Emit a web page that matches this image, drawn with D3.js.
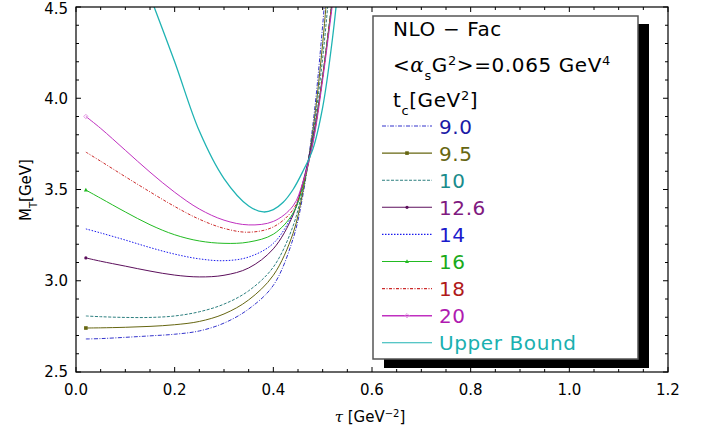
<!DOCTYPE html>
<html>
<head>
<style>
  body { margin: 0; background: #fff; }
  text { font-family: "DejaVu Sans", sans-serif; }
</style>
</head>
<body>
<svg width="705" height="435"></svg>
<script src="https://cdn.jsdelivr.net/npm/d3@7"></script>
<script>

// tau grid shared by the t_c curves
var tau = [0.02, 0.05, 0.10, 0.15, 0.20, 0.25, 0.30, 0.35, 0.40, 0.44, 0.46, 0.48, 0.50, 0.52];

var m90  = [2.681, 2.683, 2.690, 2.698, 2.707, 2.725, 2.768, 2.845, 2.975, 3.23, 3.47, 3.85, 4.40, 5.10];
var m95  = [2.741, 2.742, 2.745, 2.750, 2.759, 2.777, 2.818, 2.895, 3.030, 3.26, 3.49, 3.82, 4.30, 4.95];
var m10  = [2.807, 2.803, 2.799, 2.799, 2.807, 2.830, 2.872, 2.945, 3.075, 3.30, 3.51, 3.80, 4.22, 4.80];
var m126 = [3.125, 3.107, 3.080, 3.053, 3.031, 3.021, 3.030, 3.070, 3.175, 3.36, 3.54, 3.78, 4.12, 4.55];
var m14  = [3.284, 3.262, 3.223, 3.182, 3.146, 3.120, 3.110, 3.130, 3.205, 3.37, 3.53, 3.77, 4.12, 4.55];
var m16  = [3.497, 3.452, 3.377, 3.307, 3.252, 3.218, 3.205, 3.212, 3.255, 3.37, 3.52, 3.76, 4.12, 4.55];
var m18  = [3.705, 3.655, 3.570, 3.487, 3.407, 3.337, 3.287, 3.266, 3.295, 3.39, 3.53, 3.76, 4.12, 4.55];
var m20  = [3.900, 3.835, 3.715, 3.595, 3.485, 3.393, 3.332, 3.306, 3.325, 3.41, 3.54, 3.75, 4.10, 4.52];

// upper bound has its own tau grid
var tauUB = [0.15, 0.20, 0.25, 0.30, 0.35, 0.38, 0.40, 0.42, 0.44, 0.46, 0.48, 0.50, 0.52, 0.54];
var mUB   = [4.56, 4.20, 3.82, 3.56, 3.41, 3.377, 3.39, 3.43, 3.50, 3.60, 3.72, 3.95, 4.33, 4.85];

var labels = ["9.0", "9.5", "10", "12.6", "14", "16", "18", "20", "Upper Bound"];
var xTicks = [0.0, 0.2, 0.4, 0.6, 0.8, 1.0, 1.2];
var yTicks = [2.5, 3.0, 3.5, 4.0, 4.5];

var series = [
  {name: "9.0",  x: tau, y: m90,  color: "#3333cc", text: "#1a1aa6", dash: "4,1.5,1,1.5"},
  {name: "9.5",  x: tau, y: m95,  color: "#666611", text: "#666611", dash: null, marker: "square"},
  {name: "10",   x: tau, y: m10,  color: "#2d7f7f", text: "#1a8c8c", dash: "3,1.5"},
  {name: "12.6", x: tau, y: m126, color: "#5c0f5c", text: "#801a80", dash: null, marker: "dot"},
  {name: "14",   x: tau, y: m14,  color: "#1a1aee", text: "#1a1acc", dash: "1.5,1.5"},
  {name: "16",   x: tau, y: m16,  color: "#22bb22", text: "#1aaa1a", dash: null, marker: "triangle"},
  {name: "18",   x: tau, y: m18,  color: "#cc2a2a", text: "#b01a1a", dash: "3,1.5,1,1.5"},
  {name: "20",   x: tau, y: m20,  color: "#c030c0", text: "#b01ab0", dash: null, marker: "diamond"},
  {name: "Upper Bound", x: tauUB, y: mUB, color: "#1fb3b3", text: "#1ab0b0", dash: null}
];

var svg = d3.select("svg"),
    margin = {top: 7, right: 37, bottom: 63, left: 76},
    width = 705 - margin.left - margin.right,
    height = 435 - margin.top - margin.bottom,
    g = svg.append("g").attr("transform", "translate(" + margin.left + "," + margin.top + ")");

var x = d3.scaleLinear().domain([0, 1.2]).range([0, width]);
var y = d3.scaleLinear().domain([2.5, 4.5]).range([height, 0]);

g.append("clipPath").attr("id", "clip")
  .append("rect").attr("width", width).attr("height", height);

// curves
var line = d3.line()
  .x(function(d) { return x(d[0]); })
  .y(function(d) { return y(d[1]); })
  .curve(d3.curveCatmullRom.alpha(0.5));

var curves = g.append("g").attr("clip-path", "url(#clip)");

series.forEach(function(s) {
  var pts = s.x.map(function(t, i) { return [t, s.y[i]]; });
  curves.append("path")
    .datum(pts)
    .attr("fill", "none")
    .attr("stroke", s.color)
    .attr("stroke-width", s.name == "Upper Bound" ? 1.3 : 1)
    .attr("stroke-dasharray", s.dash)
    .attr("d", line);
});

function marker(sel, type, cx, cy, color) {
  if (type == "square") {
    sel.append("rect").attr("x", cx - 1.8).attr("y", cy - 1.8).attr("width", 3.6).attr("height", 3.6).attr("fill", color);
  } else if (type == "dot") {
    sel.append("circle").attr("cx", cx).attr("cy", cy).attr("r", 1.6).attr("fill", color);
  } else if (type == "triangle") {
    sel.append("path").attr("d", "M" + cx + "," + (cy - 2.2) + "L" + (cx + 2) + "," + (cy + 1.5) + "L" + (cx - 2) + "," + (cy + 1.5) + "Z").attr("fill", color);
  } else if (type == "diamond") {
    sel.append("path").attr("d", "M" + cx + "," + (cy - 2.2) + "L" + (cx + 2.2) + "," + cy + "L" + cx + "," + (cy + 2.2) + "L" + (cx - 2.2) + "," + cy + "Z")
      .attr("fill", "none").attr("stroke", "#e090e0").attr("stroke-width", 0.9);
  }
}

series.forEach(function(s) {
  if (s.marker) marker(g, s.marker, x(s.x[0]), y(s.y[0]), s.color);
});

// frame with inward ticks on all sides
function minor(step, lo, hi) {
  var out = [];
  for (var v = lo; v <= hi + 1e-9; v += step) out.push(+v.toFixed(3));
  return out;
}
var xMinor = minor(0.05, 0, 1.2), yMinor = minor(0.1, 2.5, 4.5);

var axes = g.append("g").attr("stroke", "#000");

axes.append("rect").attr("width", width).attr("height", height)
  .attr("fill", "none").attr("stroke-width", 1.2);

xMinor.forEach(function(v) {
  var major = xTicks.some(function(t) { return Math.abs(t - v) < 1e-6; });
  var len = major ? 5 : 3;
  axes.append("line").attr("x1", x(v)).attr("x2", x(v)).attr("y1", height).attr("y2", height - len);
  axes.append("line").attr("x1", x(v)).attr("x2", x(v)).attr("y1", 0).attr("y2", len);
});
yMinor.forEach(function(v) {
  var major = yTicks.some(function(t) { return Math.abs(t - v) < 1e-6; });
  var len = major ? 5 : 3;
  axes.append("line").attr("y1", y(v)).attr("y2", y(v)).attr("x1", 0).attr("x2", len);
  axes.append("line").attr("y1", y(v)).attr("y2", y(v)).attr("x1", width).attr("x2", width - len);
});

g.append("g").selectAll("text").data(xTicks).enter().append("text")
  .attr("x", function(d) { return x(d); })
  .attr("y", height + 23)
  .attr("text-anchor", "middle")
  .attr("font-size", 15)
  .text(function(d) { return d.toFixed(1); });

g.append("g").selectAll("text").data(yTicks).enter().append("text")
  .attr("x", -8)
  .attr("y", function(d) { return d == 4.5 ? y(d) + 1.5 : y(d); })
  .attr("dy", "0.36em")
  .attr("text-anchor", "end")
  .attr("font-size", 15)
  .text(function(d) { return d.toFixed(1); });

// axis titles
var xt = svg.append("text").attr("x", 370).attr("y", 422).attr("text-anchor", "middle").attr("font-size", 15);
xt.append("tspan").attr("font-family", "DejaVu Serif").attr("font-style", "italic").text("τ");
xt.append("tspan").text(" [GeV");
xt.append("tspan").attr("baseline-shift", "super").attr("font-size", 10).text("−2");
xt.append("tspan").text("]");

var yt = svg.append("text").attr("transform", "translate(31,190) rotate(-90)").attr("text-anchor", "middle").attr("font-size", 15);
yt.append("tspan").text("M");
yt.append("tspan").attr("baseline-shift", "sub").attr("font-size", 10).text("T");
yt.append("tspan").attr("baseline-shift", "0").text("[GeV]");

// legend
var leg = svg.append("g");
leg.append("rect").attr("x", 384).attr("y", 24).attr("width", 265).attr("height", 344).attr("fill", "#000");
leg.append("rect").attr("x", 373).attr("y", 16).attr("width", 265).attr("height", 343)
  .attr("fill", "#fff").attr("stroke", "#555").attr("stroke-width", 1.5);

leg.append("text").attr("x", 393).attr("y", 36).attr("font-size", 20).attr("letter-spacing", 0.6).text("NLO − Fac");

var t2 = leg.append("text").attr("x", 393).attr("y", 72).attr("font-size", 20).attr("letter-spacing", 0.6);
t2.append("tspan").text("<");
t2.append("tspan").attr("font-family", "DejaVu Serif").attr("font-style", "italic").text("α");
t2.append("tspan").attr("baseline-shift", "sub").attr("font-size", 13).text("s");
t2.append("tspan").attr("baseline-shift", "0").text("G");
t2.append("tspan").attr("baseline-shift", "super").attr("font-size", 13).text("2");
t2.append("tspan").attr("baseline-shift", "0").text(">=0.065 GeV");
t2.append("tspan").attr("baseline-shift", "super").attr("font-size", 13).text("4");

var t3 = leg.append("text").attr("x", 393).attr("y", 107).attr("font-size", 20).attr("letter-spacing", 0.6);
t3.append("tspan").text("t");
t3.append("tspan").attr("baseline-shift", "sub").attr("font-size", 13).text("c");
t3.append("tspan").attr("baseline-shift", "0").text("[GeV");
t3.append("tspan").attr("baseline-shift", "super").attr("font-size", 13).text("2");
t3.append("tspan").attr("baseline-shift", "0").text("]");

series.forEach(function(s, i) {
  var cy = 126 + i * 27.1;
  leg.append("line").attr("x1", 382).attr("x2", 432).attr("y1", cy).attr("y2", cy)
    .attr("stroke", s.color).attr("stroke-width", s.name == "20" ? 1.6 : 1.1)
    .attr("stroke-dasharray", s.dash);
  if (s.marker) marker(leg, s.marker, 407, cy, s.color);
  leg.append("text").attr("x", 439).attr("y", cy + 7.5).attr("font-size", 20)
    .attr("letter-spacing", 0.6).attr("fill", s.text).text(labels[i]);
});

</script>
</body>
</html>
